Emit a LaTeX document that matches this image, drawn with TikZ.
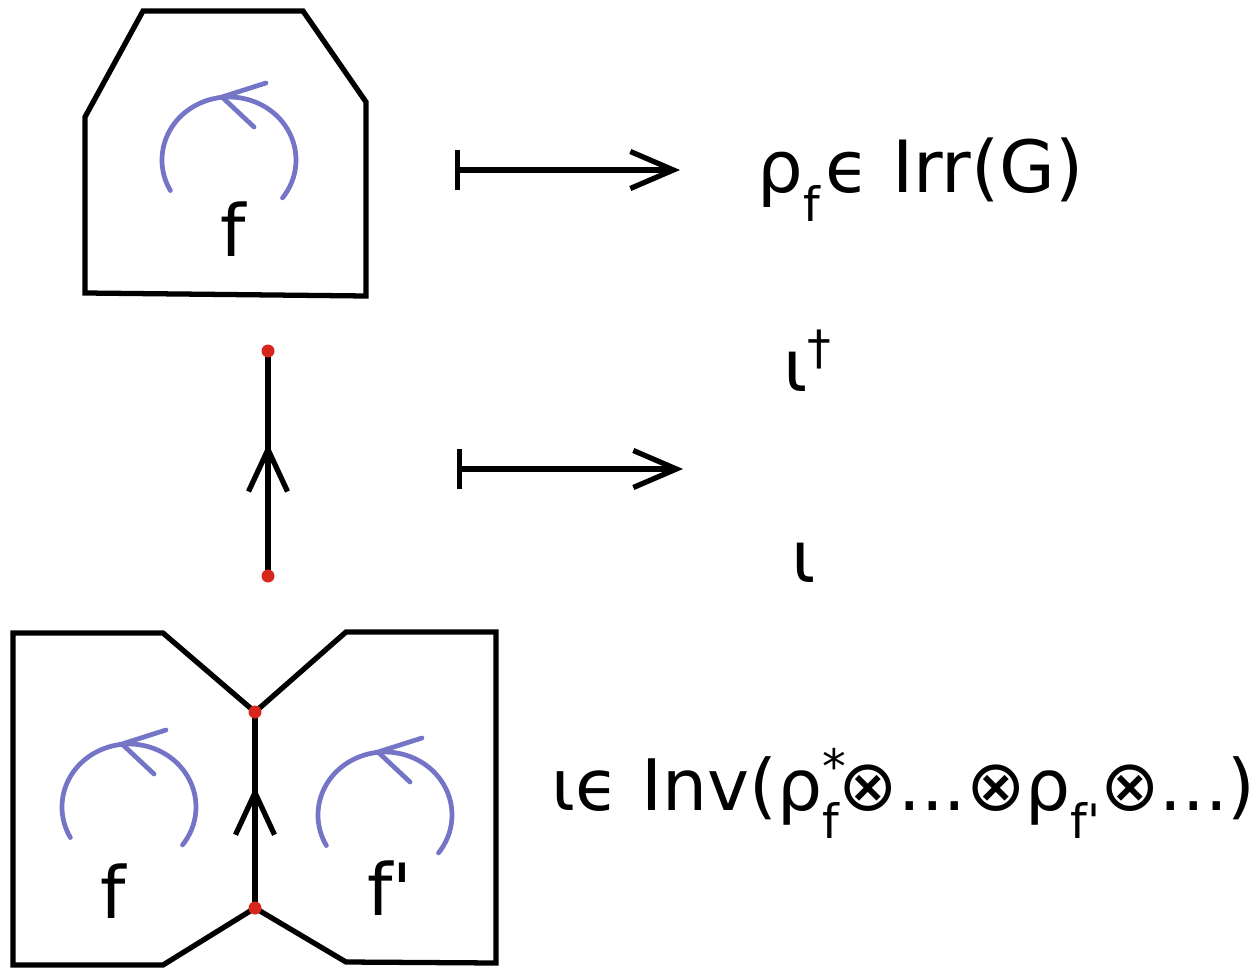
\documentclass[tikz,border=0pt]{standalone}
\usepackage{fontspec}
\setmainfont{DejaVu Sans}
\usepackage{tikz}
\usetikzlibrary{arrows.meta,decorations.markings}
\definecolor{Loop}{HTML}{7575C8}
\definecolor{Vtx}{HTML}{D7261E}
\newcommand{\lowidx}[1]{\raisebox{-16pt}{\fontsize{27}{27}\selectfont #1}}
\newcommand{\highidx}[1]{\raisebox{15pt}{\fontsize{27}{27}\selectfont #1}}

\begin{document}
\begin{tikzpicture}[
  x=0.02cm, y=-0.02cm,
  face/.style={draw=black, line width=3pt},
  loopline/.style={draw=Loop, line width=2.7pt, line cap=round},
  vdot/.style={circle, fill=Vtx, inner sep=0pt, minimum size=0.26cm},
  lbl/.style={inner sep=0pt, font=\fontsize{41}{49}\selectfont},
  mapsto/.style={line width=3pt, {Bar[width=0.8cm]}-{Straight Barb[length=0.86cm,width=0.74cm]}},
  midup/.style={face, postaction={decorate}, decoration={markings,
    mark=at position #1 with {\arrow[line width=3pt]{Straight Barb[length=0.84cm,width=0.78cm]}}}},
  circarr/.pic={
    \draw[loopline] (151:67 and 63) arc[start angle=151, end angle=397, x radius=67, y radius=63];
    \draw[loopline] (37,-77) -- (-7,-63) -- (25,-33);
  },
]
\useasboundingbox (0,0) rectangle (1260,969);
% single face
\draw[face] (85,293) -- (85,117) -- (143,11) -- (303,11) -- (366,102) -- (366,296) -- cycle;
\pic at (229,160) {circarr};
\node[lbl, anchor=base] (fa) at (233,257) {f};
% edge between two vertices
\coordinate (ea) at (268,576);
\coordinate (eb) at (268,351);
\draw[midup=0.59] (ea) -- (eb);
\node[vdot] (da) at (ea) {};
\node[vdot] (db) at (eb) {};
% two faces sharing an edge
\coordinate (v1) at (255,712);
\coordinate (v2) at (255,908);
\draw[face] (v1) -- (163,633) -- (13,633) -- (13,965) -- (163,965) -- (v2);
\draw[face] (v1) -- (346,632) -- (496,632) -- (496,963) -- (346,962) -- (v2);
\draw[midup=0.62] (v2) -- (v1);
\node[vdot] (dv1) at (v1) {};
\node[vdot] (dv2) at (v2) {};
\pic at (129,807) {circarr};
\pic at (385,815) {circarr};
\node[lbl, anchor=base] (fb) at (113,918) {f};
\node[lbl, anchor=base] (fc) at (390,915) {f\textquotesingle};
% maps
\coordinate (m1s) at (455,170);
\coordinate (m1e) at (680,170);
\draw[mapsto] (m1s) -- (m1e);
\coordinate (m2s) at (457,469);
\coordinate (m2e) at (683,469);
\draw[mapsto] (m2s) -- (m2e);
\node[lbl, anchor=base west] (irr) at (757,193) {ρ\lowidx{f}\kern3ptϵ Irr(G)};
\node[lbl, anchor=base west] (iotad) at (783,391) {ι\highidx{†}};
\node[lbl, anchor=base west] (iota) at (791,582) {ι};
\node[lbl, anchor=base west, font=\fontsize{40.4}{48}\selectfont] (inv) at (551,810) {ιϵ Inv(ρ\rlap{\highidx{*}}\lowidx{f}⊗...⊗ρ\lowidx{f\textquotesingle}⊗...)};
\end{tikzpicture}
\end{document}
